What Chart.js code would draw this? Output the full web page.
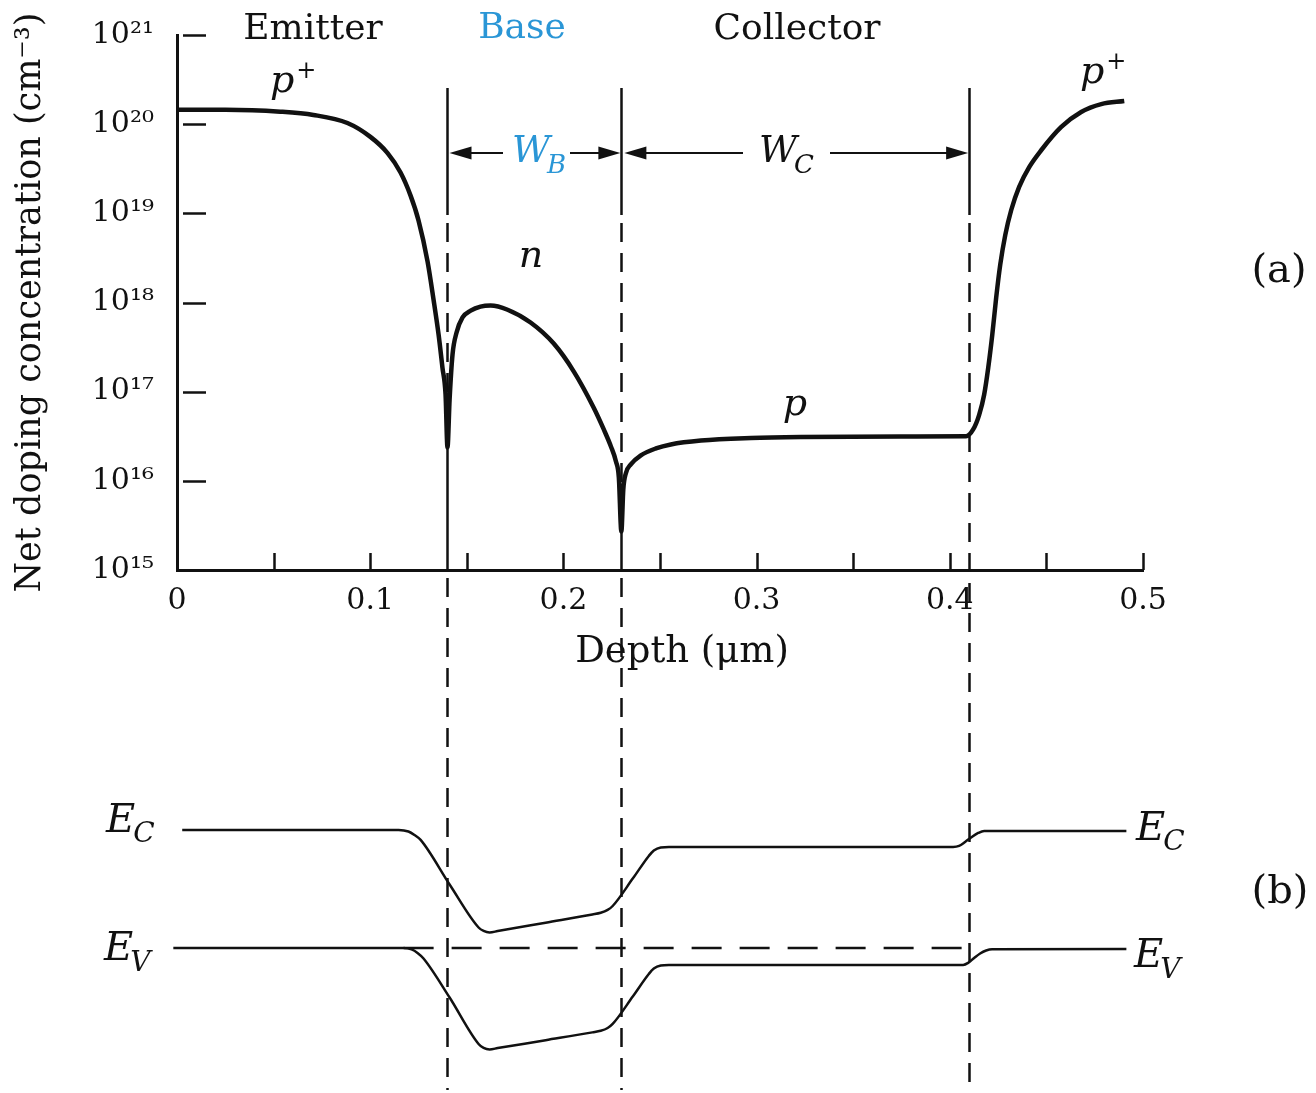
<!DOCTYPE html>
<html><head><meta charset="utf-8">
<script src="https://cdn.jsdelivr.net/npm/chart.js@4.4.1/dist/chart.umd.min.js"></script>
<style>html,body{margin:0;padding:0;background:#fff;}canvas{display:block;}</style>
</head><body>
<canvas id="c" width="1316" height="1093"></canvas>
<script>
// ---------------- Data ----------------
// (a) Net doping profile: depth in µm, concentration in cm^-3
const depthProfile = [0, 0.025, 0.0535, 0.0706, 0.0882, 0.1001, 0.109, 0.1157, 0.1209, 0.125, 0.1297, 0.1328, 0.1354, 0.1374, 0.139, 0.14, 0.1411, 0.1426, 0.1447, 0.1478, 0.152, 0.1571, 0.1623, 0.1711, 0.183, 0.195, 0.2054, 0.2157, 0.2209, 0.2246, 0.2272, 0.2287, 0.23, 0.231, 0.2323, 0.2349, 0.2401, 0.2479, 0.2556, 0.2712, 0.2971, 0.3229, 0.3748, 0.4084, 0.4121, 0.4152, 0.4178, 0.4199, 0.422, 0.424, 0.4261, 0.4287, 0.4318, 0.4359, 0.4411, 0.4473, 0.4577, 0.468, 0.4784, 0.4903];
const netDoping = [1.45e20, 1.45e20, 1.38e20, 1.27e20, 1.03e20, 7.2e19, 4.74e19, 2.87e19, 1.58e19, 8.35e18, 2.87e18, 1.07e18, 4.36e17, 1.86e17, 9.3e16, 2.37e16, 8.2e16, 2.6e17, 4.6e17, 6.8e17, 8.1e17, 9.0e17, 9.25e17, 8.3e17, 5.96e17, 3.46e17, 1.68e17, 6.6e16, 3.77e16, 2.43e16, 1.65e16, 1.09e16, 2.7e15, 8.0e15, 1.21e16, 1.53e16, 1.93e16, 2.31e16, 2.56e16, 2.83e16, 3.02e16, 3.1e16, 3.14e16, 3.16e16, 3.77e16, 5.5e16, 9.3e16, 1.86e17, 4.37e17, 1.13e18, 2.65e18, 5.7e18, 1.09e19, 1.98e19, 3.3e19, 5.1e19, 9.3e19, 1.37e20, 1.68e20, 1.82e20];

// (b) Band diagram: depth in µm, energy in eV (emitter Ev = 0)
const ecDepth  = [0.0027, 0.1147, 0.1198, 0.1229, 0.1261, 0.1411, 0.1561, 0.1587, 0.1618, 0.166, 0.1908, 0.215, 0.2193, 0.2229, 0.2255, 0.2359, 0.2442, 0.2468, 0.2504, 0.2546, 0.4017, 0.4048, 0.4079, 0.411, 0.4147, 0.4178, 0.4914];
const ecEnergy = [1.12, 1.12, 1.105, 1.072, 1.025, 0.602, 0.194, 0.161, 0.147, 0.160, 0.240, 0.318, 0.334, 0.361, 0.398, 0.658, 0.873, 0.925, 0.954, 0.958, 0.958, 0.968, 1.006, 1.048, 1.091, 1.11, 1.11];
const evDepth  = [-0.0019, 0.1173, 0.1214, 0.1245, 0.1276, 0.1411, 0.1561, 0.1587, 0.1618, 0.166, 0.1908, 0.215, 0.2193, 0.2229, 0.2255, 0.2359, 0.2442, 0.2468, 0.2504, 0.2546, 0.4069, 0.4095, 0.4126, 0.4157, 0.4188, 0.4219, 0.4914];
const evEnergy = [0, 0, -0.014, -0.047, -0.100, -0.470, -0.911, -0.949, -0.963, -0.950, -0.875, -0.801, -0.786, -0.759, -0.721, -0.461, -0.247, -0.195, -0.166, -0.161, -0.161, -0.142, -0.095, -0.052, -0.024, -0.012, -0.01];
const evRefDepth  = [0.1173, 0.4069];
const evRefEnergy = [0, 0];

// Region boundaries (µm) and axis tick values
const junctions = [0.14, 0.23, 0.41];
const yTickValues = [1e15, 1e16, 1e17, 1e18, 1e19, 1e20, 1e21];
const xLabelValues = [0, 0.1, 0.2, 0.3, 0.4, 0.5];

// ---------------- Styling ----------------
const INK = '#111';
const BLUE = '#2a96d6';
const SERIF = 'DejaVu Serif';
const SUP = {'0':'⁰','1':'¹','2':'²','3':'³','4':'⁴','5':'⁵','6':'⁶','7':'⁷','8':'⁸','9':'⁹','-':'⁻'};
const sup = s => String(s).split('').map(c => SUP[c] || c).join('');
const pts = (xs, ys) => xs.map((x, i) => ({x, y: ys[i]}));

function drawRich(ctx, parts, x, y, align) {
  let w = 0;
  parts.forEach(p => { ctx.font = p.font; p.w = ctx.measureText(p.t).width; w += p.w + (p.dx || 0); });
  let cx = align === 'center' ? x - w / 2 : x;
  ctx.textAlign = 'left';
  ctx.textBaseline = 'alphabetic';
  parts.forEach(p => {
    cx += (p.dx || 0);
    ctx.font = p.font;
    ctx.fillStyle = p.color || INK;
    ctx.fillText(p.t, cx, y + (p.dy || 0));
    cx += p.w;
  });
}

function arrowHead(ctx, tipX, y, dir) {
  ctx.beginPath();
  ctx.moveTo(tipX, y);
  ctx.lineTo(tipX - dir * 22, y - 6.5);
  ctx.lineTo(tipX - dir * 22, y + 6.5);
  ctx.closePath();
  ctx.fill();
}

const annot = {
  id: 'annot',
  beforeDatasetsDraw(chart) {
    const ctx = chart.ctx, xs = chart.scales.x, ys = chart.scales.y, ca = chart.chartArea;
    const markTop = ca.top + 53, solidEnd = ca.top + 180, dashStart = ca.top + 188, markBottom = ca.bottom + 520;
    ctx.save();
    ctx.strokeStyle = INK;
    ctx.lineWidth = 2.5;
    const seg = (x, y0, y1, dash) => { ctx.setLineDash(dash); ctx.beginPath(); ctx.moveTo(x, y0); ctx.lineTo(x, y1); ctx.stroke(); };
    const DASH = [19, 11];
    junctions.forEach(d => {
      const px = Math.round(xs.getPixelForValue(d)) + 0.5;
      seg(px, markTop, solidEnd, []);
      const idx = depthProfile.indexOf(d);
      if (idx >= 0) {
        const cusp = ys.getPixelForValue(netDoping[idx]);
        seg(px, dashStart, cusp - 6, DASH);
        seg(px, cusp, ca.bottom, []);
        seg(px, ca.bottom + 8, markBottom, DASH);
      } else {
        seg(px, dashStart, markBottom, DASH);
      }
    });
    ctx.restore();
  },
  afterDraw(chart) {
    const ctx = chart.ctx, xs = chart.scales.x, ys = chart.scales.y, ca = chart.chartArea;
    ctx.save();
    ctx.strokeStyle = INK;
    ctx.fillStyle = INK;
    ctx.setLineDash([]);
    // inward tick marks
    ctx.lineWidth = 2.5;
    ys.ticks.forEach(t => {
      if (t.value <= ys.min) return;
      const py = Math.round(ys.getPixelForValue(t.value)) + 0.5;
      ctx.beginPath(); ctx.moveTo(ca.left + 6, py); ctx.lineTo(ca.left + 29, py); ctx.stroke();
    });
    xs.ticks.forEach(t => {
      if (t.value <= xs.min + 1e-9) return;
      const px = Math.round(xs.getPixelForValue(t.value)) + 0.5;
      ctx.beginPath(); ctx.moveTo(px, ca.bottom); ctx.lineTo(px, ca.bottom - 17); ctx.stroke();
    });

    // dimension arrows W_B and W_C
    const ay = 153;
    const xB0 = xs.getPixelForValue(junctions[0]) + 2, xB1 = xs.getPixelForValue(junctions[1]) - 1;
    const xC0 = xs.getPixelForValue(junctions[1]) + 3, xC1 = xs.getPixelForValue(junctions[2]) - 1;
    ctx.lineWidth = 2;
    const hline = (a, b) => { ctx.beginPath(); ctx.moveTo(a, ay); ctx.lineTo(b, ay); ctx.stroke(); };
    hline(xB0 + 5, 503); hline(570, xB1 - 5);
    hline(xC0 + 5, 743); hline(830, xC1 - 5);
    arrowHead(ctx, xB0, ay, -1); arrowHead(ctx, xB1, ay, 1);
    arrowHead(ctx, xC0, ay, -1); arrowHead(ctx, xC1, ay, 1);

    const F = (sz, it) => (it ? 'italic ' : '') + sz + 'px "' + SERIF + '"';
    // region labels
    ctx.textAlign = 'center'; ctx.textBaseline = 'alphabetic';
    ctx.font = F(36); ctx.fillStyle = INK;
    ctx.fillText('Emitter', 313, 39);
    ctx.fillText('Collector', 797, 39);
    ctx.fillStyle = BLUE;
    ctx.fillText('Base', 522, 38);

    // width labels
    drawRich(ctx, [{t:'W', font:F(37,true), color:BLUE}, {t:'B', font:F(26,true), dy:11, dx:-3, color:BLUE}], 512, 162, 'left');
    drawRich(ctx, [{t:'W', font:F(37,true)}, {t:'C', font:F(26,true), dy:11, dx:-3}], 759, 162, 'left');

    // doping type labels
    drawRich(ctx, [{t:'p', font:F(38,true)}, {t:'+', font:F(24), dy:-14, dx:2}], 270, 92, 'left');
    drawRich(ctx, [{t:'p', font:F(38,true)}, {t:'+', font:F(24), dy:-14, dx:2}], 1080, 83, 'left');
    drawRich(ctx, [{t:'n', font:F(38,true)}], 531, 267, 'center');
    drawRich(ctx, [{t:'p', font:F(38,true)}], 795, 415, 'center');

    // x-axis title
    ctx.fillStyle = INK; ctx.textAlign = 'center'; ctx.textBaseline = 'alphabetic';
    ctx.font = F(37);
    ctx.fillText('Depth (μm)', 682, 662);

    // panel tags
    ctx.font = F(40); ctx.textBaseline = 'middle';
    ctx.fillText('(a)', 1279, 272);
    ctx.fillText('(b)', 1280, 893);

    // band labels
    drawRich(ctx, [{t:'E', font:F(40,true)}, {t:'C', font:F(28,true), dy:10, dx:-2}], 106, 832, 'left');
    drawRich(ctx, [{t:'E', font:F(40,true)}, {t:'V', font:F(28,true), dy:11, dx:-3}], 104, 960, 'left');
    drawRich(ctx, [{t:'E', font:F(40,true)}, {t:'C', font:F(28,true), dy:10, dx:-2}], 1136, 840, 'left');
    drawRich(ctx, [{t:'E', font:F(40,true)}, {t:'V', font:F(28,true), dy:11, dx:-3}], 1134, 967, 'left');
    ctx.restore();
  }
};

const lineBase = { pointRadius: 0, borderColor: INK, fill: false, cubicInterpolationMode: 'monotone' };

new Chart(document.getElementById('c'), {
  type: 'line',
  data: {
    datasets: [
      Object.assign({}, lineBase, { label: 'Net doping', data: pts(depthProfile, netDoping), borderWidth: 4.5, xAxisID: 'x', yAxisID: 'y' }),
      Object.assign({}, lineBase, { label: 'E_C', data: pts(ecDepth, ecEnergy), borderWidth: 2.5, xAxisID: 'x', yAxisID: 'yb', clip: false }),
      Object.assign({}, lineBase, { label: 'E_V', data: pts(evDepth, evEnergy), borderWidth: 2.5, xAxisID: 'x', yAxisID: 'yb', clip: false }),
      Object.assign({}, lineBase, { label: 'E_V (emitter reference)', data: pts(evRefDepth, evRefEnergy), borderWidth: 2.5, borderDash: [30, 18], xAxisID: 'x', yAxisID: 'yb', clip: false, cubicInterpolationMode: 'default' })
    ]
  },
  options: {
    responsive: false,
    animation: false,
    devicePixelRatio: 1,
    layout: { padding: { left: 0, right: 173, top: 35, bottom: 0 } },
    plugins: { legend: { display: false }, tooltip: { enabled: false } },
    scales: {
      x: {
        type: 'linear', min: 0, max: 0.5, position: 'bottom',
        grid: { display: false, drawTicks: false },
        border: { display: true, color: INK, width: 3 },
        ticks: {
          stepSize: 0.05, autoSkip: false, maxRotation: 0, padding: 13, color: INK,
          font: { family: SERIF, size: 30 },
          callback: v => { const m = xLabelValues.find(l => Math.abs(l - v) < 1e-9); return m === undefined ? '' : (m === 0 ? '0' : m.toFixed(1)); }
        },
        afterFit: s => { s.height = 523; }
      },
      y: {
        type: 'logarithmic', min: 1e15, max: 1e21, position: 'left',
        grid: { display: false, drawTicks: false },
        border: { display: true, color: INK, width: 3 },
        afterBuildTicks: s => { s.ticks = yTickValues.map(v => ({ value: v })); },
        ticks: {
          padding: 23, color: INK, font: { family: SERIF, size: 30 },
          callback: v => '10' + sup(Math.round(Math.log10(v)))
        },
        title: { display: true, text: 'Net doping concentration (cm⁻³)', color: INK, font: { family: SERIF, size: 35 }, padding: { top: 10, bottom: 0 } },
        afterFit: s => { s.width = 177; s.paddingTop = 0; s.paddingBottom = 0; }
      },
      yb: { type: 'linear', display: false, min: 3.586, max: 8.662 }
    }
  },
  plugins: [annot]
});
</script>
</body></html>
